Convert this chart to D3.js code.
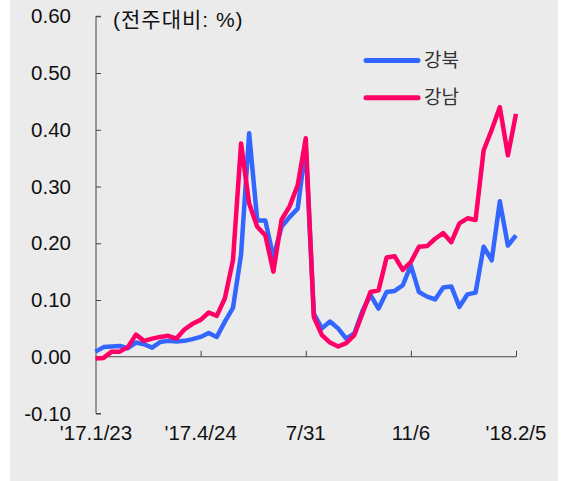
<!DOCTYPE html>
<html>
<head>
<meta charset="utf-8">
<script src="https://cdn.jsdelivr.net/npm/d3@7"></script>
<style>
  body { margin: 0; background: #fff; }
  svg text { font-family: "Liberation Sans", Arial, "Noto Sans CJK KR", sans-serif; }
</style>
</head>
<body>
<div id="chart"></div>
<script>
const widthValue = 563;
const heightValue = 481;

// weekly change (%), 53 weeks from '17.1/23 to '18.2/5
const gangbuk = [0.009, 0.017, 0.018, 0.019, 0.015, 0.025, 0.022, 0.016, 0.026, 0.028,
  0.027, 0.028, 0.031, 0.035, 0.042, 0.035, 0.062, 0.086, 0.180, 0.394,
  0.240, 0.240, 0.175, 0.229, 0.246, 0.261, 0.370, 0.076, 0.050, 0.062,
  0.050, 0.032, 0.041, 0.080, 0.109, 0.085, 0.114, 0.116, 0.126, 0.161,
  0.114, 0.106, 0.101, 0.122, 0.124, 0.088, 0.110, 0.113, 0.194, 0.170,
  0.274, 0.196, 0.214];
const gangnam = [-0.003, -0.002, 0.009, 0.009, 0.017, 0.039, 0.028, 0.032, 0.035, 0.037,
  0.032, 0.048, 0.058, 0.065, 0.078, 0.072, 0.103, 0.170, 0.376, 0.270,
  0.229, 0.214, 0.150, 0.241, 0.265, 0.302, 0.385, 0.070, 0.038, 0.025,
  0.018, 0.024, 0.038, 0.076, 0.114, 0.117, 0.175, 0.177, 0.153, 0.167,
  0.194, 0.195, 0.208, 0.218, 0.202, 0.235, 0.244, 0.241, 0.364, 0.400,
  0.440, 0.355, 0.428];

const seriesNames = ["강북", "강남"];
const seriesColors = ["#3366ff", "#ff0066"];

// x tick positions (week index) and labels
const xTickIdx = [0, 13, 26, 39, 52];
const xTickLabels = ["'17.1/23", "'17.4/24", "7/31", "11/6", "'18.2/5"];
const yTicks = [-0.1, 0, 0.1, 0.2, 0.3, 0.4, 0.5, 0.6];

const svg = d3.select("#chart")
  .append("svg")
  .attr("width", widthValue)
  .attr("height", heightValue);

// grey panel
svg.append("rect")
  .attr("x", 10).attr("y", 0)
  .attr("width", 548).attr("height", 481)
  .attr("fill", "#ebebeb");

var x = d3.scaleLinear()
  .domain([0, gangbuk.length - 1])
  .range([95.5, 516]);
var y = d3.scaleLinear()
  .domain([-0.1, 0.6])
  .range([413.5, 16.3]);

const axisColor = "#444";

// y axis
var yAxis = svg.append("g")
  .attr("transform", "translate(96,0)")
  .call(d3.axisRight(y).tickValues(yTicks).tickSize(5).tickFormat(""));
yAxis.select(".domain").attr("stroke", axisColor).attr("d", `M5,${y(0.6)}H0V${y(-0.1)}H5`);
yAxis.selectAll(".tick line").attr("stroke", axisColor);

svg.append("g").selectAll("text")
  .data(yTicks)
  .join("text")
  .attr("x", 71)
  .attr("y", d => y(d))
  .attr("dy", "0.35em")
  .attr("text-anchor", "end")
  .attr("font-size", 20.5)
  .attr("fill", "#111")
  .text(d => d.toFixed(2));

// x axis at zero
var xAxis = svg.append("g")
  .attr("transform", `translate(0,${y(0)})`)
  .call(d3.axisTop(x).tickValues(xTickIdx.slice(1)).tickSize(6).tickSizeOuter(0).tickFormat(""));
xAxis.select(".domain").attr("stroke", axisColor).attr("d", `M96,0H${x(52)}`);
xAxis.selectAll(".tick line").attr("stroke", axisColor);

svg.append("g").selectAll("text")
  .data(xTickIdx)
  .join("text")
  .attr("x", (d, i) => i === 0 ? 96 : x(d))
  .attr("y", 440)
  .attr("text-anchor", "middle")
  .attr("font-size", 20.5)
  .attr("fill", "#111")
  .text((d, i) => xTickLabels[i]);

// unit label
svg.append("text")
  .attr("x", 113)
  .attr("y", 27)
  .attr("font-size", 21)
  .attr("letter-spacing", 1)
  .attr("fill", "#111")
  .text("(전주대비: %)");

// lines
var line = d3.line()
  .x((d, i) => x(i))
  .y(d => y(d));

[gangbuk, gangnam].forEach(function(s, k) {
  svg.append("path")
    .datum(s)
    .attr("fill", "none")
    .attr("stroke", seriesColors[k])
    .attr("stroke-width", 4.5)
    .attr("stroke-linejoin", "round")
    .attr("d", line);
});

// legend
var legend = svg.append("g").selectAll("g")
  .data(seriesNames)
  .join("g")
  .attr("transform", (d, i) => `translate(366,${60.5 + i * 37.3})`);
legend.append("line")
  .attr("x1", 0).attr("x2", 52)
  .attr("stroke", (d, i) => seriesColors[i])
  .attr("stroke-width", 5)
  .attr("stroke-linecap", "round");
legend.append("text")
  .attr("x", 58)
  .attr("dy", "0.35em")
  .attr("font-size", 19)
  .attr("fill", "#333")
  .text(d => d);
</script>
</body>
</html>
